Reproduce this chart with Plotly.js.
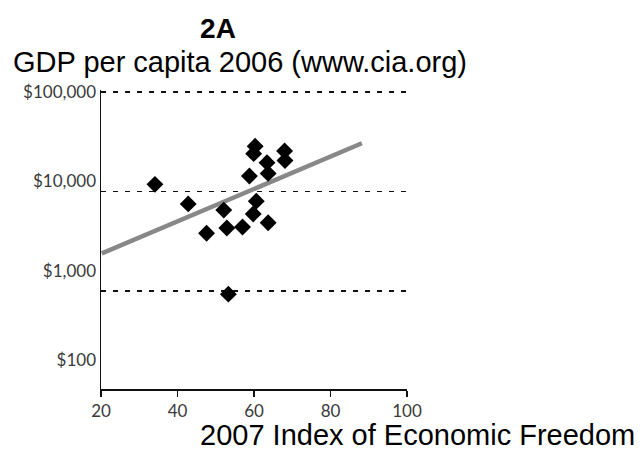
<!DOCTYPE html>
<html>
<head>
<meta charset="utf-8">
<script src="https://cdn.plot.ly/plotly-3.0.1.min.js"></script>
<style>html,body{margin:0;padding:0;background:#fff;}#chart{width:643px;height:453px;}</style>
</head>
<body>
<div id="chart"></div>
<script>
// Economic freedom index (x) vs GDP per capita (y)
const freedomIndex = [34.1, 42.8, 47.6, 52.1, 52.9, 57.0, 58.8, 60.6, 59.8, 63.7, 60.3, 59.9, 63.4, 68.0, 68.1, 63.7, 53.3];
const gdpPerCapita = [11800, 7500, 3800, 6500, 4300, 4400, 14300, 8000, 5950, 4850, 28500, 24000, 19500, 25500, 20500, 15200, 930];

// Trend line end points
const trendX = [20.2, 88.2];
const trendY = [2390, 30500];

// Axis ticks
const xTicks = [20, 40, 60, 80, 100];
const yTickVals = [100, 1000, 10000, 100000];
const yTickText = ['$100', '$1,000', '$10,000', '$100,000'];
const gridVals = [1000, 10000, 100000];

const titleText = '2A';
const subtitleText = 'GDP per capita 2006 (www.cia.org)';
const xTitleText = '2007 Index of Economic Freedom';

const labelFont = {family: 'Lato, "Open Sans", sans-serif', size: 17, color: '#3a3a3a'};

const traces = [
  {
    x: trendX, y: trendY, type: 'scatter', mode: 'lines',
    line: {color: '#888888', width: 4.5},
    hoverinfo: 'skip', showlegend: false
  },
  {
    x: freedomIndex, y: gdpPerCapita, type: 'scatter', mode: 'markers',
    marker: {symbol: 'diamond', size: 13, color: '#000', line: {width: 0}},
    showlegend: false
  },
  {
    // invisible trace attached to the label axis
    x: [20], y: [1000], yaxis: 'y2', type: 'scatter', mode: 'markers',
    marker: {opacity: 0}, hoverinfo: 'skip', showlegend: false
  }
];

const layout = {
  width: 643, height: 453,
  margin: {l: 101, r: 236, t: 90, b: 64, pad: 0},
  paper_bgcolor: '#fff', plot_bgcolor: '#fff',
  showlegend: false,
  title: {
    text: '<b>' + titleText + '</b>',
    font: {family: '"Liberation Sans", Arial, sans-serif', size: 28, color: '#000'},
    x: 218 / 643, xanchor: 'center', xref: 'container',
    y: 1 - 28 / 453, yanchor: 'middle', yref: 'container'
  },
  xaxis: {
    range: [20, 100], tickvals: xTicks, ticktext: xTicks.map(String),
    showgrid: false, zeroline: false,
    showline: true, linecolor: '#111', linewidth: 1.5,
    ticks: 'outside', ticklen: 6, tickwidth: 1.5, tickcolor: '#111',
    tickfont: labelFont
  },
  yaxis: {
    type: 'log', range: [2.015, 5.02],
    tickvals: gridVals, showticklabels: false,
    showgrid: true, gridcolor: '#111', gridwidth: 1.5, griddash: '5px,7px',
    zeroline: false, ticks: '',
    showline: true, linecolor: '#111', linewidth: 1.5
  },
  yaxis2: {
    type: 'log', range: [1.675, 5.022], overlaying: 'y', side: 'left',
    tickvals: yTickVals, ticktext: yTickText,
    showgrid: false, zeroline: false, showline: false, ticks: '',
    tickfont: labelFont, ticklabelstandoff: 4
  },
  annotations: [
    {
      text: subtitleText, xref: 'paper', yref: 'paper',
      x: (11 - 101) / 306, xanchor: 'left', y: (389 - 62) / 299, yanchor: 'middle',
      showarrow: false,
      font: {family: '"Liberation Sans", Arial, sans-serif', size: 29, color: '#000'}
    },
    {
      text: xTitleText, xref: 'paper', yref: 'paper',
      x: (199 - 101) / 306, xanchor: 'left', y: (389 - 452) / 299, yanchor: 'bottom',
      showarrow: false, borderpad: 0,
      font: {family: '"Liberation Sans", Arial, sans-serif', size: 29, color: '#000'}
    }
  ]
};

Plotly.newPlot('chart', traces, layout, {displayModeBar: false, staticPlot: true});
</script>
</body>
</html>
